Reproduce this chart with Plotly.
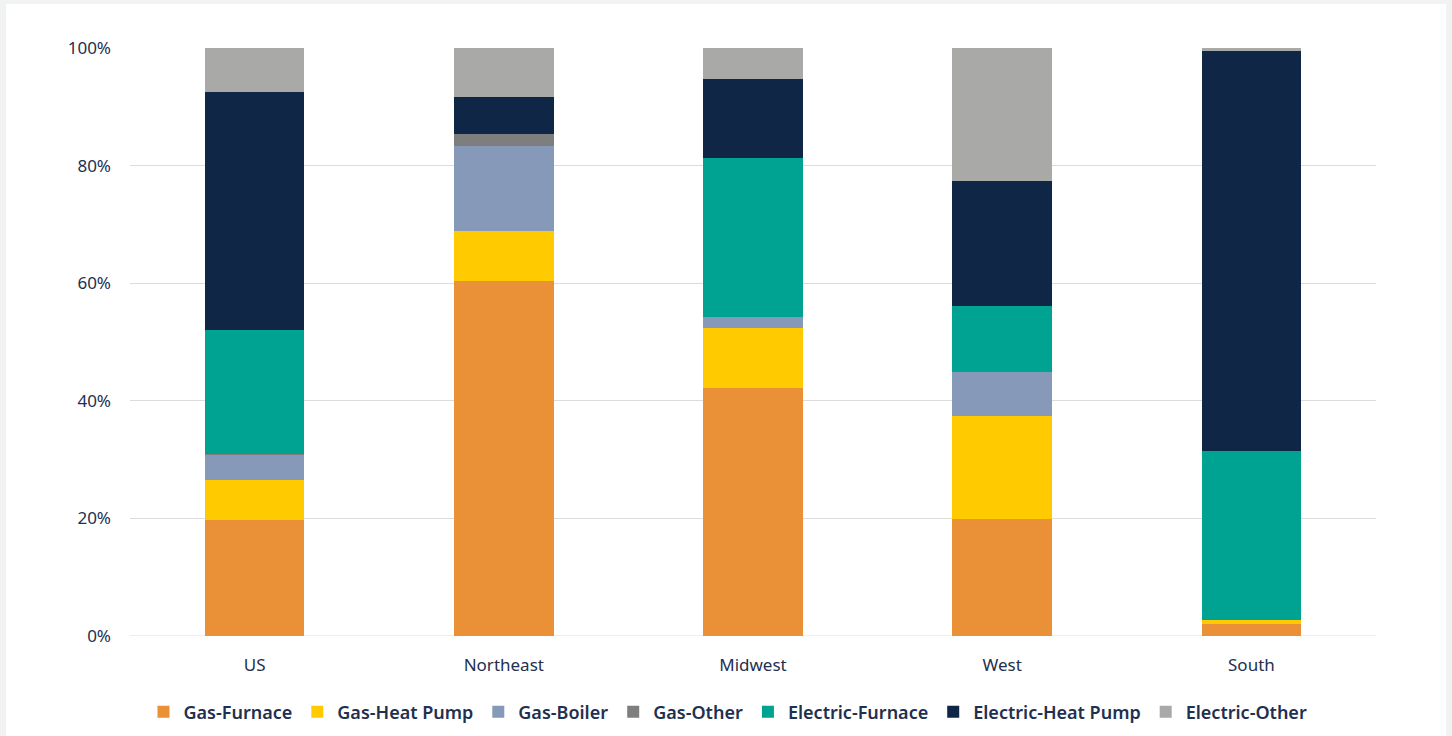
import plotly.graph_objects as go

# Regions on the x axis
regions = ["US", "Northeast", "Midwest", "West", "South"]

# Share of homes by heating type (fraction of 1), stacked bottom to top
gas_furnace = [0.198, 0.604, 0.422, 0.199, 0.020]
gas_heat_pump = [0.067, 0.084, 0.102, 0.175, 0.007]
gas_boiler = [0.043, 0.145, 0.018, 0.075, 0.000]
gas_other = [0.002, 0.020, 0.000, 0.000, 0.000]
electric_furnace = [0.210, 0.000, 0.271, 0.113, 0.288]
electric_heat_pump = [0.406, 0.063, 0.135, 0.212, 0.680]
electric_other = [0.074, 0.084, 0.052, 0.226, 0.005]

series = [
    ("Gas-Furnace", gas_furnace, "#EA9037"),
    ("Gas-Heat Pump", gas_heat_pump, "#FFCB00"),
    ("Gas-Boiler", gas_boiler, "#8799B8"),
    ("Gas-Other", gas_other, "#7E7E7E"),
    ("Electric-Furnace", electric_furnace, "#00A291"),
    ("Electric-Heat Pump", electric_heat_pump, "#0F2647"),
    ("Electric-Other", electric_other, "#A9A9A7"),
]

W, H = 1452, 736
ML, MR, MT, MB = 130, 76, 48, 100
PW, PH = W - ML - MR, H - MT - MB

def px_x(p):
    return (p - ML) / PW

def px_y(p):
    return (H - MB - p) / PH

fig = go.Figure()
for name, vals, color in series:
    fig.add_trace(go.Bar(
        x=regions, y=vals, name=name,
        marker=dict(color=color, line=dict(width=0)),
        hovertemplate="%{x}: %{y:.1%}<extra>" + name + "</extra>",
    ))

text_color = "#22304F"
fig.update_layout(
    width=W, height=H,
    barmode="stack",
    bargap=0.6,
    margin=dict(l=ML, r=MR, t=MT, b=MB, autoexpand=False),
    paper_bgcolor="#F1F2F2",
    plot_bgcolor="rgba(0,0,0,0)",
    font=dict(family="Noto Sans", size=17, color=text_color),
    showlegend=True,
    legend=dict(
        orientation="h",
        x=px_x(728), xanchor="center",
        y=px_y(712), yanchor="middle",
        font=dict(family="Noto Sans", size=18, color=text_color, weight=600),
        traceorder="normal",
        itemwidth=30,
        bgcolor="rgba(0,0,0,0)",
    ),
    xaxis=dict(
        automargin=False,
        showgrid=False, showline=False, zeroline=False,
        ticks="outside", ticklen=14, tickcolor="rgba(0,0,0,0)",
        tickfont=dict(size=17, color=text_color),
    ),
    yaxis=dict(
        automargin=False,
        range=[0, 1.0], dtick=0.2, tickformat=".0%",
        showgrid=True, gridcolor="#DCDCDC", gridwidth=1,
        zeroline=False, showline=False,
        ticklabelstandoff=18,
        tickfont=dict(size=17, color=text_color),
    ),
    shapes=[
        # white card behind the chart
        dict(type="rect", xref="paper", yref="paper", layer="below",
             x0=px_x(6), x1=px_x(1446), y0=px_y(740), y1=px_y(4),
             fillcolor="white", line=dict(width=0)),
        # baseline gridline at 0%
        dict(type="line", xref="paper", yref="y", layer="below",
             x0=0, x1=1, y0=0, y1=0, line=dict(color="#DCDCDC", width=1)),
    ],
)

fig.write_html("out.html")
